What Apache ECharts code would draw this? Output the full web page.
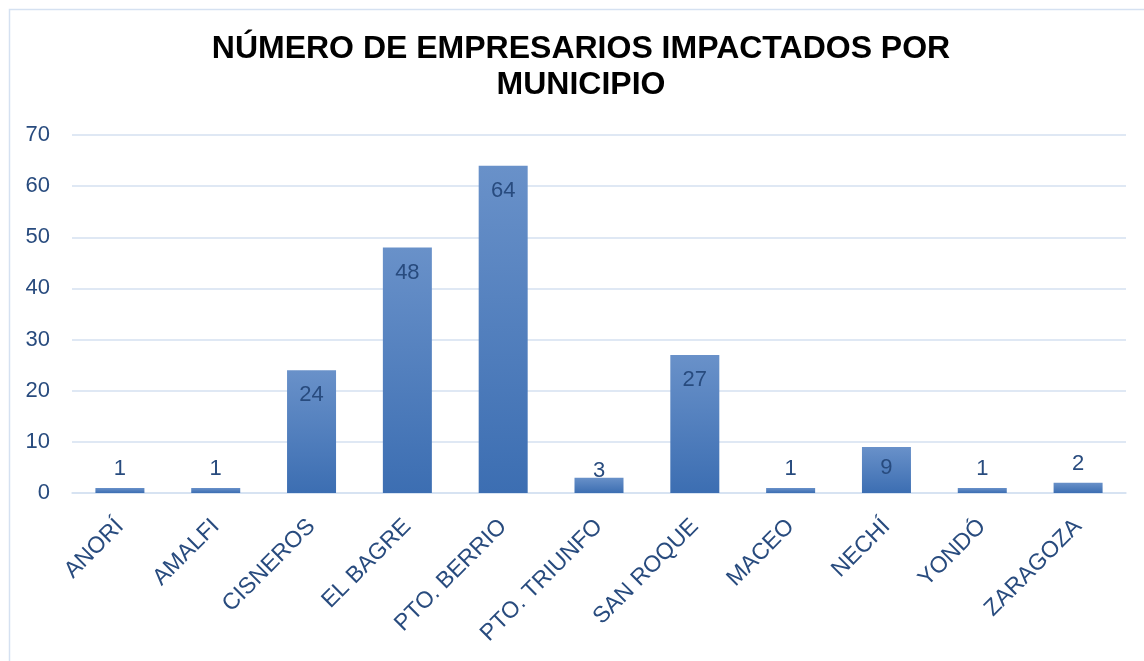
<!DOCTYPE html>
<html>
<head>
<meta charset="utf-8">
<script src="https://cdn.jsdelivr.net/npm/echarts@6/dist/echarts.min.js"></script>
<style>
html,body{margin:0;padding:0;background:#fff;}
#chart{width:1144px;height:661px;}
</style>
</head>
<body>
<div id="chart"></div>
<script>
const titleLines = ["NÚMERO DE EMPRESARIOS IMPACTADOS POR", "MUNICIPIO"];
const categories = ["ANORÍ","AMALFI","CISNEROS","EL BAGRE","PTO. BERRIO","PTO. TRIUNFO","SAN ROQUE","MACEO","NECHÍ","YONDÓ","ZARAGOZA"];
const values = [1,1,24,48,64,3,27,1,9,1,2];
const yTicks = [0,10,20,30,40,50,60,70];

const FONT = "'Liberation Sans', Arial, sans-serif";
const TXT = '#284B7E';

function labelFor(v){
  if (v >= 20) return {position:'insideTop', distance:14};
  if (v >= 5) return {position:'insideTop', distance:10};
  if (v >= 3) return {position:'top', distance:-4};
  return {position:'top', distance:8};
}

const titleGraphics = titleLines.map((t, i) => ({
  type:'text', x:581, y:49 + i*36, silent:true,
  style:{text:t, fill:'#000', font:"bold 32px 'Liberation Sans', Arial, sans-serif",
         align:'center', verticalAlign:'middle'}
}));

const chart = echarts.init(document.getElementById('chart'), null, {renderer:'canvas'});
chart.setOption({
  backgroundColor:'#ffffff',
  animation:false,
  graphic:[{
    type:'rect', left:7, top:7, shape:{x:0,y:0,width:1200,height:700},
    style:{fill:'none', stroke:'#D5E1F1', lineWidth:1.5}, silent:true
  }].concat(titleGraphics),
  grid:{left:72, right:18, top:135, bottom:168, containLabel:false},
  xAxis:{
    type:'category', data:categories,
    axisLine:{show:true, lineStyle:{color:'#D5E1F1', width:1.5}},
    axisTick:{show:false},
    axisLabel:{rotate:45, interval:0, margin:30, fontFamily:FONT, fontSize:23, color:TXT}
  },
  yAxis:{
    type:'value', min:yTicks[0], max:yTicks[yTicks.length-1], interval:10,
    axisLine:{show:false}, axisTick:{show:false},
    splitLine:{lineStyle:{color:'#D5E1F1', width:1.5}},
    axisLabel:{margin:22, fontFamily:FONT, fontSize:22, color:TXT}
  },
  series:[{
    type:'bar', barWidth:49,
    data: values.map(v => ({value:v, label:labelFor(v)})),
    itemStyle:{color:new echarts.graphic.LinearGradient(0,0,0,1,[
      {offset:0, color:'#6991C9'},{offset:1, color:'#3C6EB2'}])},
    label:{show:true, fontFamily:FONT, fontSize:22, color:TXT}
  }]
});
</script>
</body>
</html>
